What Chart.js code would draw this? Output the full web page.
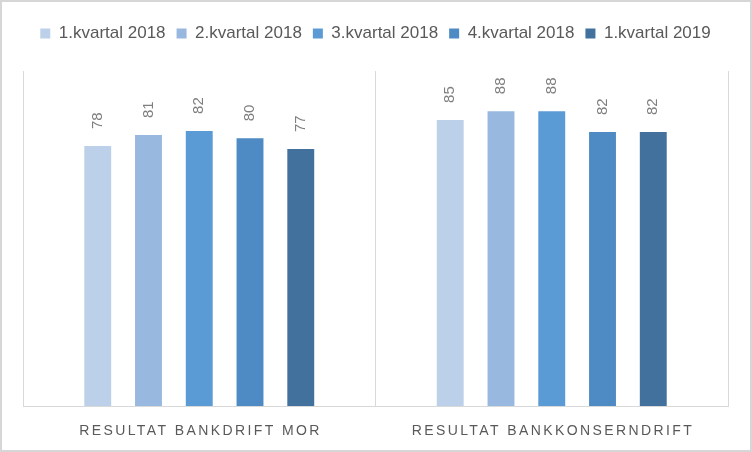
<!DOCTYPE html>
<html>
<head>
<meta charset="utf-8">
<script src="https://cdn.jsdelivr.net/npm/chart.js@4"></script>
<style>
  html, body { margin: 0; padding: 0; background: #fff; }
  #wrap { width: 752px; height: 452px; position: relative; }
</style>
</head>
<body>
<div id="wrap"><canvas id="chart"></canvas></div>
<script>
// Categories and series
const categories = ['RESULTAT BANKDRIFT MOR', 'RESULTAT BANKKONSERNDRIFT'];
const seriesNames = ['1.kvartal 2018', '2.kvartal 2018', '3.kvartal 2018', '4.kvartal 2018', '1.kvartal 2019'];
const seriesColors = ['#bdd0e9', '#98b8df', '#5b9bd5', '#4e8bc4', '#41719c'];

// values per quarter: [bankdrift mor, bankkonserndrift]
const q1_2018 = [77.6, 85.4];
const q2_2018 = [80.9, 88.0];
const q3_2018 = [82.1, 88.0];
const q4_2018 = [79.9, 81.8];
const q1_2019 = [76.7, 81.8];
const seriesValues = [q1_2018, q2_2018, q3_2018, q4_2018, q1_2019];

const FONT = '"Liberation Sans", Arial, sans-serif';

// extra room under the legend
const legendGap = {
    id: 'legendGap',
    beforeInit(chart) {
        const fit = chart.legend.fit;
        chart.legend.fit = function () {
            fit.bind(chart.legend)();
            this.height += 19;
        };
    }
};

// rotated value labels above bars
const valueLabels = {
    id: 'valueLabels',
    afterDatasetsDraw(chart) {
        const ctx = chart.ctx;
        ctx.save();
        ctx.font = '15px ' + FONT;
        ctx.fillStyle = '#7f7f7f';
        ctx.textAlign = 'left';
        ctx.textBaseline = 'middle';
        chart.data.datasets.forEach((ds, i) => {
            chart.getDatasetMeta(i).data.forEach((bar, j) => {
                ctx.save();
                ctx.translate(bar.x, bar.y - 17);
                ctx.rotate(-Math.PI / 2);
                ctx.fillText(String(Math.round(ds.data[j])), 0, 0);
                ctx.restore();
            });
        });
        ctx.restore();
    }
};

// spaced category labels + outer frame
const categoryLabels = {
    id: 'categoryLabels',
    afterDraw(chart) {
        const ctx = chart.ctx;
        const x = chart.scales.x;
        ctx.save();
        ctx.font = '14px ' + FONT;
        ctx.fillStyle = '#595959';
        ctx.textBaseline = 'middle';
        ctx.textAlign = 'left';
        ctx.letterSpacing = '2.4px';
        categories.forEach((c, i) => {
            const w = ctx.measureText(c).width - 2.4;
            ctx.fillText(c, x.getPixelForValue(i) - w / 2, 431);
        });
        ctx.restore();

        ctx.save();
        ctx.strokeStyle = '#d6d6d6';
        ctx.lineWidth = 3;
        ctx.strokeRect(0.5, 0.5, chart.width - 1, chart.height - 1);
        ctx.restore();
    }
};

new Chart(document.getElementById('chart'), {
    type: 'bar',
    data: {
        labels: categories,
        datasets: seriesNames.map((name, i) => ({
            label: name,
            data: seriesValues[i],
            backgroundColor: seriesColors[i],
            categoryPercentage: 0.72,
            barPercentage: 0.53
        }))
    },
    options: {
        responsive: true,
        maintainAspectRatio: false,
        animation: false,
        layout: {
            padding: { top: 14, left: 23, right: 24, bottom: 46 }
        },
        plugins: {
            legend: {
                position: 'top',
                labels: {
                    boxWidth: 10,
                    boxHeight: 10,
                    padding: 11,
                    color: '#595959',
                    font: { family: FONT, size: 17 }
                }
            },
            tooltip: { enabled: false }
        },
        scales: {
            x: {
                grid: {
                    offset: true,
                    color: '#d9d9d9',
                    drawTicks: false
                },
                border: { color: '#d9d9d9' },
                ticks: { display: false }
            },
            y: {
                display: false,
                min: 0,
                max: 100
            }
        }
    },
    plugins: [legendGap, valueLabels, categoryLabels]
});
</script>
</body>
</html>
